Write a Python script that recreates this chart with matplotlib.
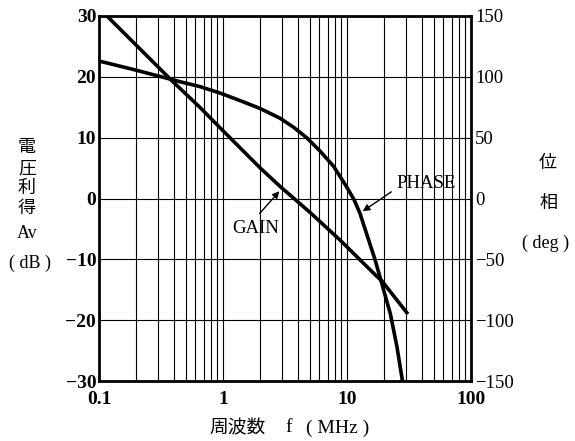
import numpy as np
import matplotlib
matplotlib.use('Agg')
import matplotlib.pyplot as plt
from matplotlib.ticker import FixedLocator, NullFormatter

# ── Data ─────────────────────────────────────────────────────
gain_f  = [0.1, 0.39, 0.65, 0.95, 2.0, 2.88, 5.04, 8.75, 17.2, 19.2, 31.0]     # MHz
gain_db = [31.3, 19.3, 15.0, 11.6, 5.0, 2.0, -2.3, -6.8, -12.7, -13.6, -19.0]  # dB

phase_f   = [0.1, 0.19, 0.45, 0.65, 0.95, 1.37, 1.99, 2.88, 3.69, 4.73, 6.06,
             7.76, 9.06, 9.94, 11.4, 12.7, 16.8, 18.5, 22.4, 25.3, 28.0]      # MHz
phase_deg = [113, 106, 96, 92, 86.6, 80.5, 74, 66, 58.7, 50, 39,
             26.7, 16, 9.5, -1, -12, -50, -65, -95, -122, -150]               # deg

db_ticks  = [-30, -20, -10, 0, 10, 20, 30]
deg_ticks = [-150, -100, -50, 0, 50, 100, 150]
f_ticks   = [0.1, 1, 10, 100]
f_labels  = ["0.1", "1", "10", "100"]

SERIF = ['Liberation Serif', 'DejaVu Serif']
CJK = ['Noto Sans CJK JP', 'DejaVu Sans']

W, H = 575, 441
fig = plt.figure(figsize=(W / 100, H / 100), dpi=100)
ax = fig.add_axes([99 / W, 1 - 381 / H, (471 - 99) / W, (381 - 16) / H])

def fx(px):
    return px / W

def fy(py):
    return 1 - py / H

def minus(v):
    return str(v).replace('-', '\u2212')

# ── Axes / grid ──────────────────────────────────────────────
ax.set_xscale('log')
ax.set_xlim(0.1, 100)
ax.set_ylim(-30, 30)
minor = [m * 10.0 ** e for e in (-1, 0, 1) for m in range(2, 10)]
ax.xaxis.set_major_locator(FixedLocator(f_ticks))
ax.xaxis.set_minor_locator(FixedLocator(minor))
ax.xaxis.set_minor_formatter(NullFormatter())
ax.set_xticklabels(f_labels, fontfamily=SERIF, fontsize=14, fontweight='bold')
ax.set_yticks(db_ticks)
ax.set_yticklabels([minus(v) for v in db_ticks],
                   fontfamily=SERIF, fontsize=14, fontweight='bold')
ax.tick_params(axis='y', which='both', length=0, pad=2)
ax.tick_params(axis='x', which='both', length=0, pad=7)
ax.grid(True, which='both', axis='x', color='black', lw=0.8)
ax.grid(True, which='major', axis='y', color='black', lw=0.8)
for s in ax.spines.values():
    s.set_linewidth(2.0)

ax2 = ax.twinx()
ax2.set_ylim(-150, 150)
ax2.set_yticks(deg_ticks)
ax2.set_yticklabels([minus(v) for v in deg_ticks], fontfamily=SERIF, fontsize=13.5)
ax2.tick_params(length=0, pad=3)
for s in ax2.spines.values():
    s.set_visible(False)

# ── Curves ───────────────────────────────────────────────────
ax.plot(gain_f, gain_db, color='black', lw=2.6, solid_capstyle='butt',
        solid_joinstyle='round')
ax2.plot(phase_f, phase_deg, color='black', lw=2.6, solid_capstyle='butt',
         solid_joinstyle='round')

ax.annotate("GAIN", xy=(2.85, 1.2), xytext=(1.84, -5.0),
            ha='center', va='center', fontfamily=SERIF, fontsize=13.5,
            arrowprops=dict(arrowstyle='-|>', color='black', lw=1.0,
                            mutation_scale=10, relpos=(0.45, 1.0),
                            shrinkA=4, shrinkB=0))
ax.annotate("PHASE", xy=(13.4, -2.1), xytext=(43.4, 2.5),
            ha='center', va='center', fontfamily=SERIF, fontsize=13.5,
            arrowprops=dict(arrowstyle='-|>', color='black', lw=1.0,
                            mutation_scale=10, relpos=(0.0, 0.2),
                            shrinkA=2, shrinkB=0))

# ── Axis titles ──────────────────────────────────────────────
for ch, py in zip("電圧利得", (147, 168, 188, 208)):
    fig.text(fx(27), fy(py), ch, ha='center', va='center', fontfamily=CJK, fontsize=13)
fig.text(fx(27), fy(233), "Av", ha='center', va='center', fontfamily=SERIF, fontsize=13)
fig.text(fx(30), fy(263), "( dB )", ha='center', va='center', fontfamily=SERIF, fontsize=13)

fig.text(fx(548), fy(163), "位", ha='center', va='center', fontfamily=CJK, fontsize=13)
fig.text(fx(548), fy(203), "相", ha='center', va='center', fontfamily=CJK, fontsize=13)
fig.text(fx(546), fy(243), "( deg )", ha='center', va='center', fontfamily=SERIF, fontsize=13)

fig.text(fx(238), fy(428), "周波数", ha='center', va='center', fontfamily=CJK, fontsize=13.5)
fig.text(fx(289), fy(428), "f", ha='center', va='center', fontfamily=SERIF, fontsize=14)
fig.text(fx(338), fy(428), "( MHz )", ha='center', va='center', fontfamily=SERIF, fontsize=14)

fig.savefig("out.png", dpi=100, facecolor='white')
